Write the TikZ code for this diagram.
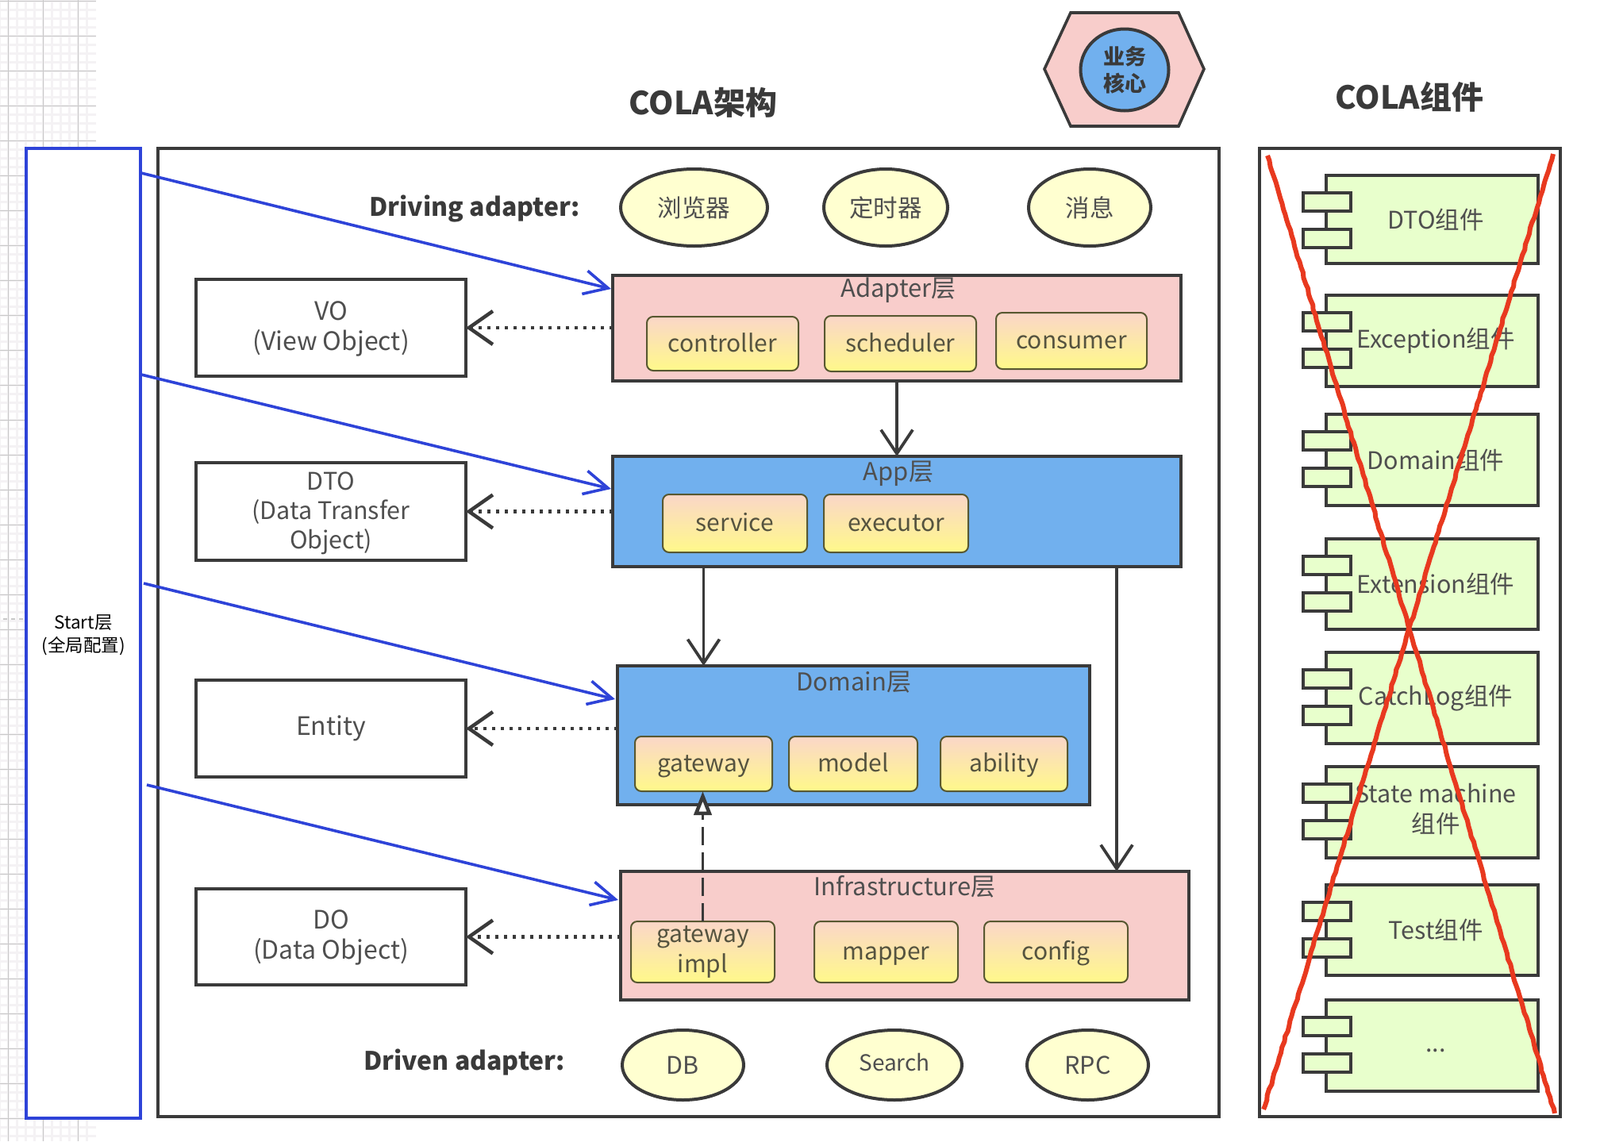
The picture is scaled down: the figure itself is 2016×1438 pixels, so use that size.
\documentclass[tikz,border=0pt]{standalone}
\usepackage{fontspec}
\setmainfont{Noto Sans CJK SC}
\usetikzlibrary{arrows.meta,shapes.geometric,decorations.pathmorphing}
\definecolor{dark}{HTML}{3A3A3A}
\definecolor{txt}{HTML}{4F4F4F}
\definecolor{subtxt}{HTML}{55533F}
\definecolor{pinkfill}{HTML}{F8CDCB}
\definecolor{bluefill}{HTML}{71B0EE}
\definecolor{ovalfill}{HTML}{FFFFD0}
\definecolor{compfill}{HTML}{E8FFCC}
\definecolor{startblue}{HTML}{2E43D8}
\definecolor{crossred}{HTML}{E8391F}
\definecolor{gridmajor}{HTML}{C9C9C9}
\definecolor{gridminor}{HTML}{F4F2F4}
\definecolor{subtop}{HTML}{FAD6C8}
\definecolor{subbot}{HTML}{FFF98A}
\newcommand{\fs}[2]{\fontsize{#1}{#2}\selectfont}
\newcommand{\bx}[7]{\node[#2,minimum width={((#5)-(#3))*1pt},minimum height={((#6)-(#4))*1pt}] (#1) at ({((#3)+(#5))/2},{((#4)+(#6))/2}) {#7};}
\newcommand{\ml}[2]{\raisebox{#1}[0pt][0pt]{\begin{tabular}{@{}c@{}}#2\end{tabular}}}
\newcommand{\comp}[4]{%
  \bx{#1}{compbody}{1671}{#2}{1938}{#2+#3}{#4}
  \bx{#1a}{comptab}{1642}{#2+22}{1702}{#2+45}{}
  \bx{#1b}{comptab}{1642}{#2+68}{1702}{#2+91}{}
}
\tikzset{
  every node/.style={inner sep=0pt,outer sep=0pt,align=center,text=txt},
  frame/.style={draw=dark,line width=3.2pt,fill=white},
  startbox/.style={draw=startblue,line width=4.2pt,fill=white},
  objbox/.style={draw=dark,line width=4pt,fill=white,font=\fs{32}{38}},
  layerpink/.style={draw=dark,line width=3.6pt,fill=pinkfill},
  layerblue/.style={draw=dark,line width=3.6pt,fill=bluefill},
  layertitle/.style={font=\fs{31}{38},text=txt},
  subbox/.style={draw=dark!85!yellow,line width=2pt,rounded corners=8pt,top color=subtop,bottom color=subbot,font=\fs{30}{38},text=subtxt},
  subone/.style={subbox,text height=28pt,text depth=8pt},
  ovalnode/.style={ellipse,draw=dark,line width=4pt,fill=ovalfill,font=\fs{30.5}{36}},
  compbody/.style={draw=dark,line width=3.6pt,fill=compfill,font=\fs{30.5}{38}},
  comptab/.style={draw=dark,line width=3.6pt,fill=compfill},
  heading/.style={font=\bfseries\fs{40}{46},text=dark},
  adapterlabel/.style={font=\bfseries\fs{32}{38},text=dark},
  solidarrow/.style={draw=dark,line width=3.4pt,-{Straight Barb[length=30pt,width=40pt,line width=3.8pt]}},
  dotarrow/.style={draw=dark,line width=4.5pt,dash pattern=on 4.5pt off 6.5pt,-{Straight Barb[length=30pt,width=42pt,line width=4.5pt,sep=0pt]}},
  realizearrow/.style={draw=dark,line width=3.6pt,dash pattern=on 23pt off 9pt,-{Triangle[open,length=30pt,width=22pt,line width=4.5pt,fill=white]}},
  bluearrow/.style={draw=startblue,line width=3.6pt,-{Straight Barb[length=30pt,width=30pt,line width=3.6pt]}},
  crossline/.style={draw=crossred,line width=6pt,decorate,decoration={random steps,segment length=7pt,amplitude=0.8pt}},
}
\begin{document}
\begin{tikzpicture}[x=1pt,y=-1pt]
\useasboundingbox[fill=white] (0,0) rectangle (2016,1438);
% background grid
\begin{scope}
  \clip (0,0) rectangle (121,187) (0,187) rectangle (33,1438) (33,1409) rectangle (121,1438);
  \foreach \k in {0,...,10} \draw[gridminor,line width=3pt] ({10.5+11*\k-11},0) -- ({10.5+11*\k-11},1438);
  \foreach \k in {0,...,130} \draw[gridminor,line width=3pt] (0,{1.5+11*\k}) -- (121,{1.5+11*\k});
  \foreach \k in {0,1,2} \draw[gridmajor,line width=1.2pt] ({10.5+44*\k},0) -- ({10.5+44*\k},1438);
  \foreach \k in {0,...,32} \draw[gridmajor,line width=1.2pt] (0,{1.5+44*\k}) -- (121,{1.5+44*\k});
\end{scope}
\draw[gridmajor,line width=1.2pt,dash pattern=on 5pt off 5pt] (4,780) -- (32,780);
% frames
\bx{main}{frame}{199}{187}{1536}{1407}{}
\bx{comps}{frame}{1587}{187}{1966}{1407}{}
\bx{start}{startbox}{33}{187}{177}{1409}{}
\node[text=black,font=\fs{22.5}{29}] (starttext) at (105,800) {Start层\\(全局配置)};
% titles
\node[heading] (title1) at (886,129) {COLA架构};
\node[heading] (title2) at (1776,122) {COLA组件};
% hexagon
\draw[draw=dark,line width=3.6pt,fill=pinkfill,line join=miter] (1316,87) -- (1349,16) -- (1485,16) -- (1517,87) -- (1485,159) -- (1349,159) -- cycle;
\node[ellipse,draw=dark,line width=4pt,fill=bluefill,minimum width=111pt,minimum height=103pt,font=\bfseries\fs{27}{34},text=dark] (core) at (1417,88) {业务\\核心};
% driving adapter
\node[adapterlabel] (driving) at (598,263.5) {Driving adapter:};
\bx{browser}{ovalnode}{782}{213}{967}{310}{浏览器}
\bx{timer}{ovalnode}{1038}{213}{1194}{310}{定时器}
\bx{msg}{ovalnode}{1296}{213}{1450}{310}{消息}
% objects
\bx{vo}{objbox}{247}{352}{587}{474}{\ml{-8.5pt}{VO\\(View Object)}}
\bx{dto}{objbox,font=\fs{30.5}{37}}{247}{583}{587}{706}{\ml{-8.5pt}{DTO\\(Data Transfer\\Object)}}
\bx{entity}{objbox}{247}{857}{587}{979}{Entity}
\bx{do}{objbox}{247}{1120}{587}{1241}{\ml{-8pt}{DO\\(Data Object)}}
% adapter layer
\bx{adapter}{layerpink}{772}{347}{1488}{480}{}
\node[layertitle] (adaptertitle) at (1132,366) {Adapter层};
\bx{controller}{subone}{815}{399}{1006}{467}{controller}
\bx{scheduler}{subone}{1039}{398}{1230}{468}{scheduler}
\bx{consumer}{subone}{1255}{394}{1445}{465}{consumer}
% app layer
\bx{app}{layerblue}{772}{575}{1488}{714}{}
\node[layertitle] (apptitle) at (1132,596.5) {App层};
\bx{service}{subone}{835}{623}{1017}{696}{service}
\bx{executor}{subone}{1038}{623}{1220}{696}{executor}
% domain layer
\bx{domain}{layerblue}{778}{839}{1373}{1014}{}
\node[layertitle] (domaintitle) at (1076,859.5) {Domain层};
\bx{gateway}{subone}{800}{928}{973}{997}{gateway}
\bx{model}{subone}{994}{928}{1156}{997}{model}
\bx{ability}{subone}{1185}{928}{1345}{997}{ability}
% infrastructure layer
\bx{infra}{layerpink}{782}{1098}{1498}{1260}{}
\node[layertitle] (infratitle) at (1140,1117) {Infrastructure层};
\bx{gwimpl}{subbox}{795}{1161}{976}{1238}{gateway\\impl}
\bx{mapper}{subone}{1026}{1161}{1207}{1238}{mapper}
\bx{config}{subone}{1240}{1161}{1421}{1238}{config}
% driven adapter
\node[adapterlabel] (driven) at (585,1338.5) {Driven adapter:};
\bx{db}{ovalnode}{784}{1298}{937}{1386}{DB}
\bx{search}{ovalnode,font=\fs{28}{36},text height=22pt,text depth=8pt}{1042}{1298}{1212}{1386}{Search}
\bx{rpc}{ovalnode}{1294}{1298}{1447}{1386}{RPC}
% layer connectors
\coordinate (appinfra) at (1407,714);
\draw[solidarrow] (adapter) -- (app);
\draw[solidarrow] (gateway.north |- app.south) -- (gateway.north |- domain.north);
\draw[solidarrow] (appinfra) -- (appinfra |- infra.north);
\draw[realizearrow] (gwimpl.north) -- (gwimpl.north |- gateway.south);
\draw[dotarrow] (adapter.west |- vo.east) -- (vo.east);
\draw[dotarrow] (app.west |- dto.east) -- (dto.east);
\draw[dotarrow] (domain.west |- entity.east) -- (entity.east);
\draw[dotarrow] (infra.west |- do.east) -- (do.east);
% components
\comp{c1}{221}{111}{\hspace*{9pt}DTO组件}
\comp{c2}{372}{115}{\hspace*{9pt}Exception组件}
\comp{c3}{522}{115}{\hspace*{9pt}Domain组件}
\comp{c4}{679}{114}{\hspace*{9pt}Extension组件}
\comp{c5}{822}{115}{\hspace*{9pt}CatchLog组件}
\comp{c6}{966}{115}{\hspace*{9pt}\ml{-5.5pt}{State machine\\组件}}
\comp{c7}{1115}{114}{\hspace*{9pt}Test组件}
\comp{c8}{1260}{115}{\hspace*{9pt}\raisebox{-8pt}[0pt][0pt]{...}}
% start connectors
\coordinate (s1) at (178,218); \coordinate (e1) at (770,364);
\coordinate (s2) at (178,472); \coordinate (e2) at (770,616);
\coordinate (s3) at (181,735); \coordinate (e3) at (775,881);
\coordinate (s4) at (185,989); \coordinate (e4) at (779,1134);
\draw[bluearrow] (s1) -- (e1);
\draw[bluearrow] (s2) -- (e2);
\draw[bluearrow] (s3) -- (e3);
\draw[bluearrow] (s4) -- (e4);
% red cross
\coordinate (x1a) at (1597,196); \coordinate (x1b) at (1959,1403);
\coordinate (x2a) at (1957,194); \coordinate (x2b) at (1592,1398);
\draw[crossline] (x1a) -- (x1b);
\draw[crossline] (x2a) -- (x2b);
\end{tikzpicture}
\end{document}
